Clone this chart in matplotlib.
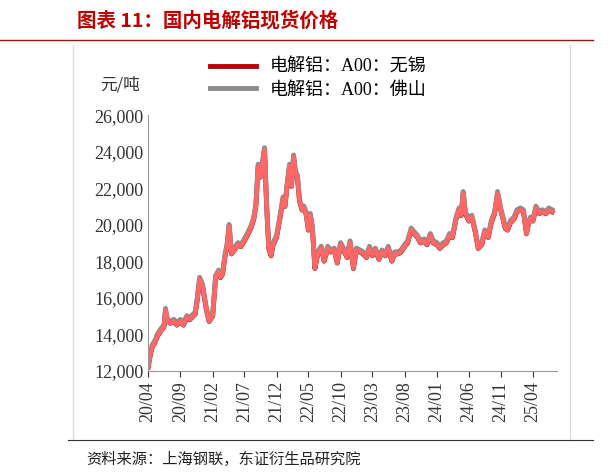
import numpy as np
import pandas as pd
import matplotlib
matplotlib.use('Agg')
import matplotlib.pyplot as plt
import matplotlib.dates as mdates

# values (Wuxi spot), one row of dates per row of values
dates = pd.to_datetime([
    '2020-04-01', '2020-04-10', '2020-04-20', '2020-05-01', '2020-05-15', '2020-06-01',
    '2020-06-15', '2020-06-22', '2020-07-01', '2020-07-15', '2020-08-01', '2020-08-15',
    '2020-09-01', '2020-09-15', '2020-10-01', '2020-10-15', '2020-11-01', '2020-11-10',
    '2020-11-20', '2020-12-01', '2020-12-15', '2021-01-01', '2021-01-15', '2021-02-01',
    '2021-02-15', '2021-03-01', '2021-03-10', '2021-03-20', '2021-04-01', '2021-04-10',
    '2021-04-20', '2021-05-01', '2021-05-15', '2021-06-01', '2021-06-15', '2021-07-01',
    '2021-07-15', '2021-08-01', '2021-08-15', '2021-08-25', '2021-09-05', '2021-09-15',
    '2021-09-25', '2021-10-05', '2021-10-15', '2021-10-25', '2021-11-05', '2021-11-15',
    '2021-12-01', '2021-12-15', '2022-01-01', '2022-01-10', '2022-01-20', '2022-02-01',
    '2022-02-10', '2022-02-20', '2022-03-01', '2022-03-10', '2022-03-20', '2022-04-01',
    '2022-04-10', '2022-04-20', '2022-05-01', '2022-05-10', '2022-05-20', '2022-06-01',
    '2022-06-15', '2022-07-01', '2022-07-15', '2022-08-01', '2022-08-15', '2022-09-01',
    '2022-09-15', '2022-10-01', '2022-10-15', '2022-11-01', '2022-11-15', '2022-12-01',
    '2022-12-15', '2023-01-01', '2023-01-15', '2023-02-01', '2023-02-15', '2023-03-01',
    '2023-03-15', '2023-04-01', '2023-04-15', '2023-05-01', '2023-05-15', '2023-06-01',
    '2023-06-15', '2023-07-01', '2023-07-15', '2023-08-01', '2023-08-15', '2023-09-01',
    '2023-09-15', '2023-10-01', '2023-10-15', '2023-11-01', '2023-11-15', '2023-12-01',
    '2023-12-15', '2024-01-01', '2024-01-15', '2024-02-01', '2024-02-15', '2024-03-01',
    '2024-03-15', '2024-04-01', '2024-04-15', '2024-04-25', '2024-05-05', '2024-05-15',
    '2024-06-01', '2024-06-15', '2024-07-01', '2024-07-15', '2024-08-01', '2024-08-15',
    '2024-09-01', '2024-09-15', '2024-10-01', '2024-10-15', '2024-11-01', '2024-11-10',
    '2024-11-20', '2024-12-01', '2024-12-15', '2025-01-01', '2025-01-15', '2025-02-01',
    '2025-02-15', '2025-03-01', '2025-03-10', '2025-03-20', '2025-04-01', '2025-04-15',
    '2025-05-01', '2025-05-15', '2025-06-01', '2025-06-15', '2025-07-01'])
wuxi = [
    12200, 12800, 13300, 13500, 13900, 14200,
    14400, 15300, 14700, 14600, 14700, 14500,
    14700, 14500, 14900, 14800, 15000, 15100,
    15900, 17000, 16600, 15400, 14700, 15000,
    17100, 17400, 17100, 17300, 18300, 18800,
    19900, 18400, 18600, 18900, 18800, 19100,
    19400, 19800, 20300, 21000, 23200, 22600,
    23300, 24100, 21000, 18700, 18300, 18900,
    19300, 20200, 21400, 21000, 22100, 23200,
    22100, 23700, 22800, 22600, 21300, 20800,
    20900, 20600, 19700, 20500, 19800, 17600,
    18400, 18700, 18000, 18700, 18500, 18600,
    17900, 18900, 18600, 18200, 19000, 17600,
    18600, 18500, 18400, 18200, 18700, 18300,
    18600, 18100, 18500, 18300, 18700, 18000,
    18400, 18400, 18500, 18800, 19000, 19700,
    19500, 19300, 19000, 19100, 18900, 19400,
    19000, 18900, 18700, 18900, 19000, 19400,
    19300, 20300, 20800, 20500, 21700, 20600,
    20200, 20400, 19600, 18700, 18900, 19600,
    19300, 20100, 20600, 21700, 20700, 20300,
    19800, 19700, 20100, 20300, 20700, 20800,
    20700, 19500, 20000, 20300, 20200, 20900,
    20600, 20700, 20600, 20800, 20700]
# Foshan runs a little above Wuxi
foshan_spread = 120
foshan = [v + foshan_spread for v in wuxi]

xticks = pd.date_range('2020-04-01', '2025-04-01', freq='5MS')

plt.rcParams['font.family'] = ['Liberation Serif', 'Noto Sans CJK SC']
fig = plt.figure(figsize=(6.15, 4.76), dpi=100)
ax = fig.add_axes([0.241, 0.221, 0.665, 0.537])
ax.plot(dates, wuxi, color='#c00000', lw=3.5, label='电解铝：A00：无锡')
ax.plot(dates, foshan, color='#8c8c8c', lw=3.5, label='电解铝：A00：佛山')
ax.plot(dates, wuxi, color='#ff6666', lw=3)

ax.set_ylim(12000, 26000)
ax.set_yticks(range(12000, 26001, 2000))
ax.yaxis.set_major_formatter(matplotlib.ticker.FuncFormatter(lambda v, p: f'{int(v):,}'))
ax.set_xlim(pd.Timestamp('2020-04-01'), pd.Timestamp('2025-07-25'))
ax.set_xticks(xticks)
ax.xaxis.set_major_formatter(mdates.DateFormatter('%y/%m'))
plt.setp(ax.get_xticklabels(), rotation=90)
ax.tick_params(labelsize=13, colors='#333333', direction='out', length=4)
ax.tick_params(axis='y', length=0)
for s in ['top', 'right']:
    ax.spines[s].set_visible(False)
for s in ['left', 'bottom']:
    ax.spines[s].set_color('#999999')
ax.text(-0.07, 1.1, '元/吨', transform=ax.transAxes, fontsize=12,
        family=['Noto Sans CJK SC'], ha='center', color='#333333')
ax.legend(loc='lower left', bbox_to_anchor=(0.13, 1.03), frameon=False,
          handlelength=2.5, labelspacing=0.3, borderpad=0,
          prop={'family': ['Liberation Serif', 'Noto Sans CJK SC'], 'size': 13})

fig.text(0.125, 0.945, '图表 11：国内电解铝现货价格', color='#c00000', fontsize=14,
         fontweight='bold', family=['Noto Sans CJK SC'])
fig.add_artist(plt.Line2D([0.0, 0.965], [0.915, 0.915], color='#c00000', lw=1))
fig.add_artist(plt.Line2D([0.119, 0.119], [0.075, 0.905], color='#dddddd', lw=1))
fig.add_artist(plt.Line2D([0.927, 0.927], [0.075, 0.905], color='#dddddd', lw=1))
fig.add_artist(plt.Line2D([0.11, 0.965], [0.075, 0.075], color='#333333', lw=0.8))
fig.text(0.14, 0.025, '资料来源：上海钢联，东证衍生品研究院', fontsize=11,
         family=['Noto Sans CJK SC'], color='#222222')
fig.savefig('out.png')
